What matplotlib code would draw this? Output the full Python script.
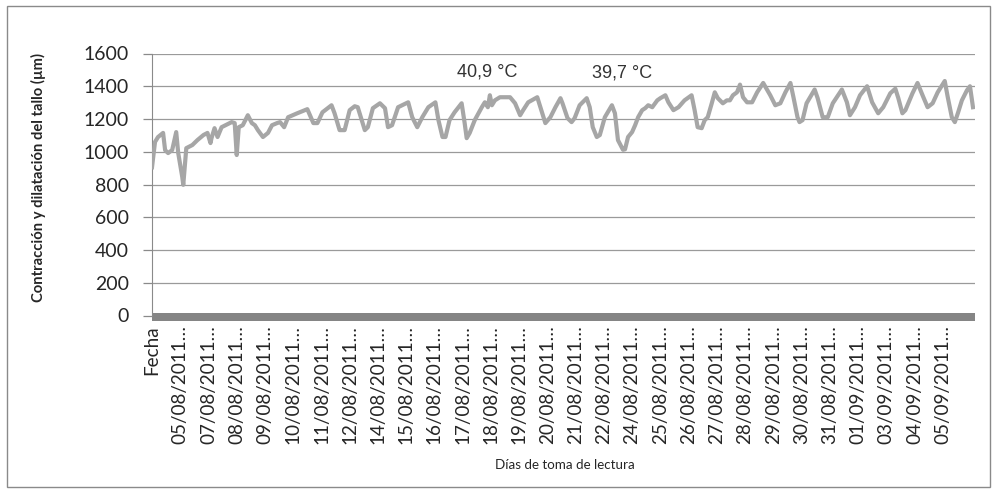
import matplotlib.pyplot as plt
from matplotlib.patches import Rectangle

# lecturas del dendrómetro (número de lectura, micras)
lectura = [0, 3, 6, 11, 13, 16, 20, 24, 26, 30, 31, 34, 40, 45, 51, 55, 58, 59, 62, 65,
           69, 79, 82, 84, 86, 90, 95, 99, 102, 105, 110, 115, 119, 124, 127, 131, 135, 144, 154, 160,
           164, 169, 178, 181, 186, 191, 196, 201, 204, 208, 211, 214, 219, 226, 231, 234, 238, 244, 254, 258,
           263, 268, 274, 281, 284, 288, 291, 295, 300, 307, 310, 312, 315, 320, 327, 330, 333, 335, 337, 340,
           345, 355, 360, 365, 368, 373, 382, 387, 390, 395, 400, 405, 407, 412, 416, 419, 424, 431, 434, 437,
           441, 444, 449, 456, 459, 462, 467, 469, 472, 476, 479, 482, 486, 489, 492, 496, 501, 504, 509, 512,
           517, 522, 528, 535, 538, 541, 545, 548, 551, 555, 558, 561, 566, 570, 573, 576, 580, 583, 586, 590,
           595, 600, 606, 613, 618, 623, 628, 633, 636, 640, 642, 645, 649, 657, 660, 665, 670, 675, 684, 689,
           692, 697, 702, 709, 714, 720, 725, 732, 737, 740, 744, 747, 754, 759, 764, 769, 774, 779, 786, 789,
           793, 796, 799, 803, 808, 811, 814]
micras = [905, 1060, 1090, 1115, 1010, 992, 1010, 1120, 992, 846, 798, 1022, 1041, 1071, 1102, 1115, 1053, 1083, 1144, 1090,
          1150, 1181, 1175, 980, 1150, 1162, 1223, 1175, 1162, 1132, 1090, 1115, 1162, 1175, 1181, 1150, 1211, 1235, 1260, 1175,
          1175, 1241, 1284, 1235, 1132, 1132, 1254, 1278, 1272, 1193, 1132, 1150, 1266, 1296, 1266, 1150, 1162, 1272, 1302, 1211,
          1150, 1211, 1272, 1302, 1193, 1090, 1090, 1193, 1241, 1296, 1175, 1083, 1115, 1193, 1272, 1302, 1272, 1345, 1284, 1314,
          1333, 1333, 1296, 1223, 1254, 1302, 1333, 1235, 1175, 1211, 1272, 1327, 1296, 1205, 1181, 1205, 1284, 1327, 1272, 1150,
          1090, 1102, 1211, 1284, 1235, 1071, 1012, 1015, 1090, 1120, 1162, 1211, 1254, 1266, 1284, 1272, 1314, 1327, 1345, 1302,
          1254, 1272, 1314, 1345, 1254, 1150, 1144, 1193, 1211, 1296, 1363, 1327, 1296, 1314, 1314, 1345, 1363, 1410, 1333, 1302,
          1302, 1363, 1420, 1345, 1284, 1296, 1363, 1420, 1333, 1211, 1181, 1193, 1296, 1380, 1327, 1211, 1211, 1296, 1380, 1302,
          1223, 1272, 1345, 1400, 1302, 1235, 1272, 1357, 1385, 1327, 1235, 1254, 1357, 1420, 1345, 1272, 1296, 1363, 1432, 1333,
          1211, 1181, 1235, 1314, 1375, 1400, 1272]

n_lecturas = 816
paso_etiqueta = 28
etiquetas = ["Fecha", "05/08/2011…", "07/08/2011…", "08/08/2011…", "09/08/2011…", "10/08/2011…",
             "11/08/2011…", "12/08/2011…", "14/08/2011…", "15/08/2011…", "16/08/2011…", "17/08/2011…",
             "18/08/2011…", "19/08/2011…", "20/08/2011…", "21/08/2011…", "22/08/2011…", "24/08/2011…",
             "25/08/2011…", "26/08/2011…", "27/08/2011…", "28/08/2011…", "29/08/2011…", "30/08/2011…",
             "31/08/2011…", "01/09/2011…", "03/09/2011…", "04/09/2011…", "05/09/2011…"]

temperaturas = ["40,9 °C", "39,7 °C"]
temp_x = [332, 466]
temp_y = [1490, 1482]

W, H = 997, 492
fig = plt.figure(figsize=(W / 100, H / 100), dpi=100)
ax = fig.add_axes([152 / W, 1 - 315.5 / H, 823 / W, 262 / H])

ax.plot(lectura, micras, color="#a6a6a6", lw=3.0, solid_joinstyle="round", zorder=3)

ax.set_xlim(0, n_lecturas)
ax.set_ylim(0, 1600)
ax.set_yticks(range(0, 1601, 200))
ax.grid(axis="y", color="#9a9a9a", lw=0.9)
ax.set_axisbelow(True)

# the tick marks of every reading merge into one solid band along the axis
ax.add_patch(Rectangle((0, -0.021), n_lecturas, 0.031, transform=ax.get_xaxis_transform(),
                       facecolor="#858585", edgecolor="none", clip_on=False, zorder=2))

ax.set_xticks([i * paso_etiqueta for i in range(len(etiquetas))])
ax.set_xticklabels(etiquetas, rotation=90, family="Lato", fontsize=13.6, color="#262626")
ax.tick_params(axis="x", length=0, pad=7)
ax.tick_params(axis="y", direction="out", length=6.5, width=0.9, color="#8a8a8a", pad=10,
               labelsize=14, labelcolor="#262626")
for lab in ax.get_yticklabels():
    lab.set_family("Lato")

for s in ["top", "right"]:
    ax.spines[s].set_visible(False)
ax.spines["left"].set_color("#8a8a8a")
ax.spines["bottom"].set_visible(False)

for t, x, y in zip(temperaturas, temp_x, temp_y):
    ax.text(x, y, t, ha="center", va="center", family="Liberation Sans",
            fontsize=13, color="#333333")

fig.text(38 / W, 1 - 178 / H, "Contracción y dilatación del tallo (µm)", rotation=90,
         ha="center", va="center", family="Lato", fontweight="bold", fontsize=10.6,
         color="#262626")
fig.text(565 / W, 1 - 465 / H, "Días de toma de lectura", ha="center", va="center",
         family="Lato", fontsize=9.6, color="#262626")

fig.patches.append(Rectangle((7 / W, 5 / H), 983 / W, 481 / H, transform=fig.transFigure,
                             fill=False, edgecolor="#8a8a8a", lw=1))

fig.savefig("out.png", dpi=100)
